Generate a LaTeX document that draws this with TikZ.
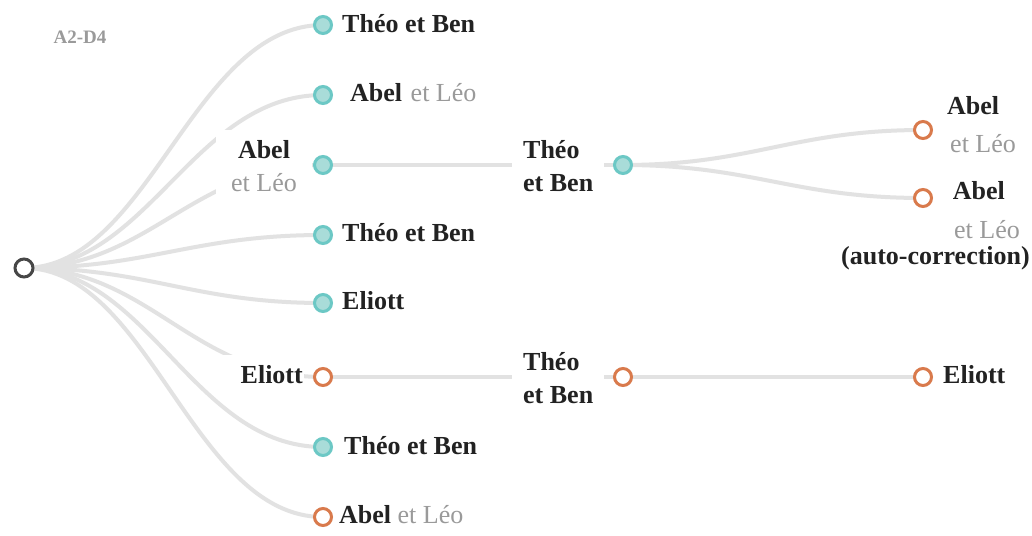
\documentclass[tikz,border=0pt]{standalone}
\usepackage{fontspec}
\usetikzlibrary{calc}
\setmainfont{Liberation Serif}
\definecolor{tealfill}{HTML}{A9DCD9}
\definecolor{tealline}{HTML}{6CC8C5}
\definecolor{orng}{HTML}{D97A4C}
\definecolor{rootc}{HTML}{474747}
\definecolor{edgec}{HTML}{E2E2E2}
\definecolor{txt}{HTML}{222222}
\definecolor{lgray}{HTML}{9A9A9A}
\begin{document}
\begin{tikzpicture}[x=1pt,y=-1pt,
  tnode/.style={circle,minimum size=17pt,inner sep=0pt,line width=3pt,draw=tealline,fill=tealfill},
  onode/.style={circle,minimum size=17pt,inner sep=0pt,line width=3pt,draw=orng,fill=white},
  rnode/.style={circle,minimum size=18pt,inner sep=0pt,line width=3pt,draw=rootc,fill=white},
  edge/.style={draw=edgec,line width=4pt,line cap=round},
  lbl/.style={font=\fontsize{26}{33}\selectfont\bfseries,text=txt,inner sep=1pt},
  lblbox/.style={lbl,fill=white},
  gr/.style={text=lgray,font=\mdseries}
]
\useasboundingbox (0,0) rectangle (1032,535);
\fill[white] (0,0) rectangle (1032,535);

\node[font=\fontsize{19}{20}\selectfont\bfseries,text=lgray] (title) at (80,37) {A2-D4};

% nodes positions
\coordinate (r) at (24,268);
\coordinate (p1) at (323,25);
\coordinate (p2) at (323,95);
\coordinate (p3) at (323,165);
\coordinate (p4) at (323,235);
\coordinate (p5) at (323,303);
\coordinate (p6) at (323,377);
\coordinate (p7) at (323,447);
\coordinate (p8) at (323,517);
\coordinate (m1) at (623,165);
\coordinate (m2) at (623,377);
\coordinate (q1) at (923,130);
\coordinate (q2) at (923,198);
\coordinate (q3) at (923,377);

% edges
\foreach \p in {p1,p2,p3,p4,p5,p6,p7,p8}{
  \draw[edge] (r) .. controls ($(r)+(125,0)$) and ($(\p)+(-130,0)$) .. (\p);
}
\draw[edge] (p3) -- (m1);
\draw[edge] (p6) -- (m2);
\draw[edge] (m2) -- (q3);
\draw[edge] (m1) .. controls ($(m1)+(130,0)$) and ($(q1)+(-130,0)$) .. (q1);
\draw[edge] (m1) .. controls ($(m1)+(130,0)$) and ($(q2)+(-130,0)$) .. (q2);

% labels
\node[lbl,anchor=west] (l1) at (341,24) {Théo et Ben};
\node[lbl,anchor=west] (l2) at (349,93) {Abel\ \kern2pt{\color{lgray}\mdseries et Léo}};
\node[lblbox,align=center,minimum width=96pt,minimum height=72pt] (l3) at (264,166) {Abel\\{\color{lgray}\mdseries et Léo}};
\node[lbl,anchor=west] (l4) at (341,233) {Théo et Ben};
\node[lbl,anchor=west] (l5) at (341,301) {Eliott};
\node[lblbox,anchor=east,minimum height=40pt] (l6) at (304,375) {\ \ \ Eliott};
\node[lbl,anchor=west] (l7) at (343,446) {Théo et Ben};
\node[lbl,anchor=west] (l8) at (338,515) {Abel\ {\color{lgray}\mdseries et Léo}};
\node[lblbox,align=left,anchor=west,minimum height=72pt,minimum width=92pt] (lm1) at (512,166) {Théo\\et Ben};
\node[lblbox,align=left,anchor=west,minimum height=72pt,minimum width=92pt] (lm2) at (512,378) {Théo\\et Ben};
\node[lbl,align=left,anchor=west] (lq1) at (946,125) {Abel\\[5pt]{\color{lgray}\mdseries\kern3pt et Léo}};
\node[lbl,align=right,anchor=north east] (lq2) at (1031,180) {Abel\kern25pt\\[6pt]{\color{lgray}\mdseries et Léo}\kern10pt\\[-7pt](auto-correction)};
\node[lbl,anchor=west] (lq3) at (942,375) {Eliott};

% circles
\node[rnode] (root) at (r) {};
\node[tnode] (n1) at (p1) {};
\node[tnode] (n2) at (p2) {};
\node[tnode] (n3) at (p3) {};
\node[tnode] (n4) at (p4) {};
\node[tnode] (n5) at (p5) {};
\node[onode] (n6) at (p6) {};
\node[tnode] (n7) at (p7) {};
\node[onode] (n8) at (p8) {};
\node[tnode] (nm1) at (m1) {};
\node[onode] (nm2) at (m2) {};
\node[onode] (nq1) at (q1) {};
\node[onode] (nq2) at (q2) {};
\node[onode] (nq3) at (q3) {};
\end{tikzpicture}
\end{document}
